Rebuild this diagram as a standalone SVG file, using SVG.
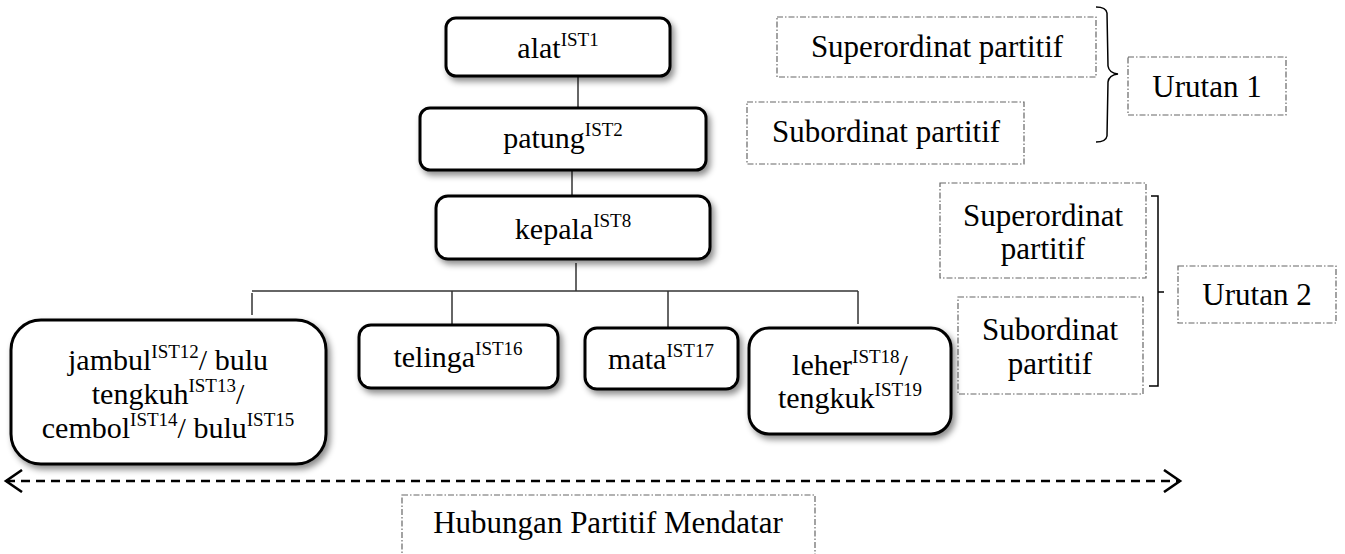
<svg xmlns="http://www.w3.org/2000/svg" width="1345" height="554" viewBox="0 0 1345 554">
<defs>
<filter id="sh" x="-10%" y="-10%" width="130%" height="140%">
<feDropShadow dx="3" dy="4" stdDeviation="3" flood-color="#000" flood-opacity="0.45"/>
</filter>
<marker id="ah" markerWidth="20" markerHeight="24" refX="17" refY="12" orient="auto-start-reverse" markerUnits="userSpaceOnUse">
<path d="M1,1 L17,12 L1,23" fill="none" stroke="#000" stroke-width="2.6"/>
</marker>
</defs>
<style>
.t{font-family:"Liberation Serif","Times New Roman",serif;font-size:30px;fill:#000;text-anchor:middle}
.l{font-family:"Liberation Serif","Times New Roman",serif;font-size:31px;fill:#000;text-anchor:middle}
.s{font-size:19px;baseline-shift:12px}
.n{fill:#fff;stroke:#000;stroke-width:3;filter:url(#sh)}
.d{fill:none;stroke:#666;stroke-width:1.2;stroke-dasharray:6 2 1.5 2}
.c{stroke:#333;stroke-width:1.5;fill:none}
.b{stroke:#000;stroke-width:1.5;fill:none}
</style>
<rect width="1345" height="554" fill="#fff"/>
<g id="connectors">
<line class="c" x1="578" y1="77" x2="578" y2="108"/>
<line class="c" x1="572" y1="170" x2="572" y2="196"/>
<line class="c" x1="576" y1="263" x2="576" y2="291"/>
<line class="c" x1="252" y1="291" x2="858" y2="291"/>
<line class="c" x1="252" y1="293" x2="252" y2="315"/>
<line class="c" x1="452" y1="291" x2="452" y2="324"/>
<line class="c" x1="668" y1="291" x2="668" y2="327"/>
<line class="c" x1="858" y1="291" x2="858" y2="324"/>
<line x1="6" y1="481" x2="1180" y2="481" stroke="#000" stroke-width="2.6" stroke-dasharray="9 6" marker-start="url(#ah)" marker-end="url(#ah)"/>
<path class="b" d="M1096,7 Q1106,7 1107,13 L1108,66 Q1109,73 1118,74 Q1109,75 1108,82 L1107,136 Q1106,142 1096,142"/>
<path class="b" d="M1151,196 L1158,196 L1158,386 L1149,386 M1158,292 L1164,292"/>
</g>
<g id="n-alat">
<rect class="n" x="446" y="18" width="224" height="58" rx="10"/>
<text class="t" x="558" y="58">alat<tspan class="s">IST1</tspan></text>
</g>
<g id="n-patung">
<rect class="n" x="420" y="108" width="286" height="62" rx="10"/>
<text class="t" x="563" y="148">patung<tspan class="s">IST2</tspan></text>
</g>
<g id="n-kepala">
<rect class="n" x="436" y="196" width="274" height="63" rx="12"/>
<text class="t" x="573" y="239">kepala<tspan class="s">IST8</tspan></text>
</g>
<g id="n-jambul">
<rect class="n" x="11" y="320" width="315" height="144" rx="30"/>
<text class="t" x="168" y="370">jambul<tspan class="s">IST12</tspan>/ bulu</text>
<text class="t" x="168" y="404">tengkuh<tspan class="s">IST13</tspan>/</text>
<text class="t" x="168" y="438">cembol<tspan class="s">IST14</tspan>/ bulu<tspan class="s">IST15</tspan></text>
</g>
<g id="n-telinga">
<rect class="n" x="359" y="325" width="199" height="63" rx="12"/>
<text class="t" x="458" y="367">telinga<tspan class="s">IST16</tspan></text>
</g>
<g id="n-mata">
<rect class="n" x="585" y="328" width="153" height="61" rx="12"/>
<text class="t" x="661" y="369">mata<tspan class="s">IST17</tspan></text>
</g>
<g id="n-leher">
<rect class="n" x="749" y="328" width="202" height="106" rx="20"/>
<text class="t" x="850" y="375">leher<tspan class="s">IST18</tspan>/</text>
<text class="t" x="850" y="408">tengkuk<tspan class="s">IST19</tspan></text>
</g>
<g id="lbl-super1">
<rect class="d" x="777" y="17" width="319" height="60"/>
<text class="l" x="937" y="57">Superordinat partitif</text>
</g>
<g id="lbl-sub1">
<rect class="d" x="747" y="102" width="277" height="62"/>
<text class="l" x="886" y="142">Subordinat partitif</text>
</g>
<g id="lbl-urutan1">
<rect class="d" x="1128" y="57" width="158" height="58"/>
<text class="l" x="1207" y="97">Urutan 1</text>
</g>
<g id="lbl-super2">
<rect class="d" x="940" y="183" width="206" height="95"/>
<text class="l" x="1043" y="226">Superordinat</text>
<text class="l" x="1043" y="259">partitif</text>
</g>
<g id="lbl-sub2">
<rect class="d" x="958" y="297" width="185" height="97"/>
<text class="l" x="1050" y="340">Subordinat</text>
<text class="l" x="1050" y="374">partitif</text>
</g>
<g id="lbl-urutan2">
<rect class="d" x="1178" y="266" width="158" height="57"/>
<text class="l" x="1257" y="305">Urutan 2</text>
</g>
<g id="lbl-hubungan">
<rect class="d" x="402" y="495" width="413" height="80"/>
<text class="l" x="608" y="533">Hubungan Partitif Mendatar</text>
</g>
</svg>
